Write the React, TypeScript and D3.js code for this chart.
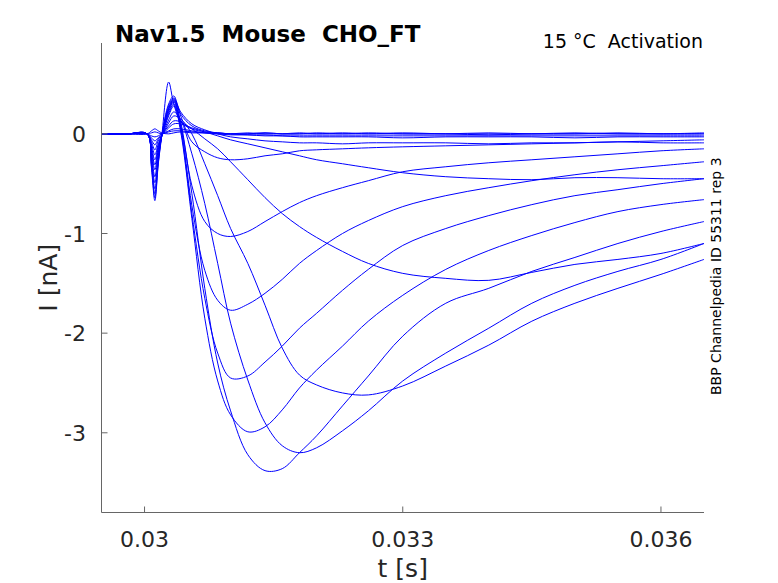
import { line, curveCatmullRom, scaleLinear } from "d3";

// sample times (s) shared by every sweep
const timeS = [
  0.0295, 0.0298, 0.03003, 0.03008, 0.03012, 0.03016, 0.0302, 0.03028, 0.03034, 0.03042, 0.03055,
  0.0307, 0.03085, 0.031, 0.0312, 0.0314, 0.0316, 0.0318, 0.032, 0.0323, 0.0326,
  0.033, 0.0335, 0.034, 0.0345, 0.035, 0.0355, 0.036, 0.0365,
];

// current (nA) per sweep
const sweep01 = [0, 0, 0, 0.03, 0.05, 0.03, 0.01, 0, 0.01, 0.02, 0.01, 0.01, 0, 0, 0.01, 0, 0, 0.01, 0, 0, 0.01, 0, 0, 0.01, 0, 0, 0.01, 0, 0];
const sweep02 = [0, 0, 0, 0.01, 0.02, 0.01, 0, 0.02, 0.03, 0.03, 0.02, 0.01, 0.01, 0, 0, 0.01, 0, 0, 0, 0.01, 0, 0, 0, -0.01, 0, 0, 0, 0, 0];
const sweep03 = [0, 0, 0, -0.02, -0.03, -0.02, 0, 0.03, 0.05, 0.05, 0.03, 0.01, 0, -0.01, -0.01, -0.01, -0.02, -0.02, -0.02, -0.02, -0.02, -0.02, -0.02, -0.02, -0.02, -0.02, -0.02, -0.02, -0.02];
const sweep04 = [0, 0, 0, -0.04, -0.07, -0.04, -0.01, 0.06, 0.1, 0.1, 0.06, 0.02, -0.02, -0.06, -0.1, -0.14, -0.18, -0.22, -0.26, -0.3, -0.34, -0.39, -0.43, -0.45, -0.46, -0.44, -0.44, -0.45, -0.45];
const sweep05 = [0, 0, 0, -0.06, -0.11, -0.05, -0.01, 0.08, 0.13, 0.12, 0.05, -0.05, -0.15, -0.28, -0.46, -0.64, -0.8, -0.93, -1.04, -1.18, -1.3, -1.4, -1.45, -1.47, -1.39, -1.31, -1.26, -1.2, -1.1];
const sweep06 = [0, 0, 0, -0.08, -0.16, -0.07, -0.02, 0.11, 0.18, 0.15, 0, -0.3, -0.62, -0.95, -1.3, -1.72, -2.15, -2.42, -2.52, -2.6, -2.62, -2.53, -2.33, -2.12, -1.88, -1.7, -1.55, -1.41, -1.26];
const sweep07 = [0, 0, 0, -0.1, -0.21, -0.1, -0.02, 0.14, 0.22, 0.14, -0.2, -0.7, -1.3, -1.9, -2.47, -2.9, -3.13, -3.2, -3.15, -2.98, -2.78, -2.48, -2.2, -1.95, -1.7, -1.52, -1.38, -1.26, -1.1];
const sweep08 = [0, 0, 0, -0.13, -0.26, -0.12, -0.02, 0.18, 0.28, 0.08, -0.6, -1.55, -2.3, -2.78, -3.22, -3.38, -3.36, -3.2, -3.03, -2.73, -2.43, -2.03, -1.7, -1.55, -1.38, -1.24, -1.1, -0.98, -0.88];
const sweep09 = [0, 0, 0, -0.15, -0.31, -0.14, -0.02, 0.2, 0.3, 0.02, -0.85, -1.85, -2.48, -2.82, -2.99, -2.94, -2.77, -2.55, -2.37, -2.13, -1.88, -1.62, -1.36, -1.17, -1.02, -0.89, -0.78, -0.71, -0.66];
const sweep10 = [0, 0, 0, -0.18, -0.36, -0.16, -0.02, 0.22, 0.32, 0.05, -0.8, -1.65, -2.2, -2.45, -2.43, -2.29, -2.13, -1.95, -1.8, -1.57, -1.36, -1.12, -0.95, -0.82, -0.71, -0.62, -0.56, -0.5, -0.45];
const sweep11 = [0, 0, 0, -0.21, -0.43, -0.19, -0.02, 0.24, 0.33, 0.08, -0.72, -1.37, -1.67, -1.77, -1.71, -1.6, -1.46, -1.3, -1.17, -1, -0.87, -0.73, -0.62, -0.54, -0.47, -0.41, -0.36, -0.32, -0.28];
const sweep12 = [0, 0, 0, -0.24, -0.49, -0.22, -0.02, 0.25, 0.34, 0.12, -0.52, -0.88, -1, -1.03, -0.98, -0.88, -0.78, -0.69, -0.62, -0.54, -0.47, -0.38, -0.33, -0.29, -0.26, -0.23, -0.2, -0.17, -0.15];
const sweep13 = [0, 0, 0, -0.27, -0.55, -0.25, -0.02, 0.26, 0.35, 0.18, -0.08, -0.18, -0.24, -0.26, -0.25, -0.22, -0.2, -0.17, -0.16, -0.15, -0.14, -0.13, -0.12, -0.11, -0.1, -0.09, -0.08, -0.07, -0.06];
const sweep14 = [0, 0, 0, -0.3, -0.6, -0.27, -0.02, 0.28, 0.36, 0.22, 0.1, 0.04, 0, -0.03, -0.05, -0.07, -0.08, -0.09, -0.09, -0.1, -0.09, -0.09, -0.09, -0.1, -0.09, -0.09, -0.08, -0.09, -0.09];
const sweep15 = [0, 0, 0, -0.32, -0.64, -0.29, -0.02, 0.3, 0.38, 0.2, 0.08, 0.03, 0.01, 0, -0.01, -0.02, -0.02, -0.03, -0.03, -0.03, -0.03, -0.04, -0.03, -0.03, -0.03, -0.04, -0.03, -0.03, -0.03];
const sweep16 = [0, 0, 0, -0.34, -0.67, -0.3, -0.02, 0.52, 0.3, 0.12, 0.05, 0.02, 0.01, 0, 0, 0.01, 0, 0, 0.01, 0, 0, 0.01, 0, 0, 0, 0.01, 0, 0, 0.01];

const sweeps = [
  sweep01, sweep02, sweep03, sweep04, sweep05, sweep06, sweep07, sweep08,
  sweep09, sweep10, sweep11, sweep12, sweep13, sweep14, sweep15, sweep16,
];

const xTicks = [0.03, 0.033, 0.036];
const yTicks = [0, -1, -2, -3];

const titleText = "Nav1.5  Mouse  CHO_FT";
const conditionText = "15 °C  Activation";
const sourceText = "BBP Channelpedia ID 55311 rep 3";

export default function App() {
  const width = 778;
  const height = 583;
  const left = 101.5;
  const right = 704;
  const top = 43;
  const bottom = 512.5;

  const x = scaleLinear().domain([0.0295, 0.0365]).range([left, right]);
  const y = scaleLinear().domain([-3.8, 0.912]).range([bottom, top]);

  const path = line<number>()
    .x((_, i) => x(timeS[i]))
    .y((d) => y(d))
    .curve(curveCatmullRom.alpha(0.5));

  const font = "'DejaVu Sans', sans-serif";
  const axisColor = "#666";
  const textColor = "#262626";

  return (
    <svg
      width={width}
      height={height}
      style={{ position: "absolute", left: 0, top: 0, background: "#fff" }}
      fontFamily={font}
    >
      <clipPath id="plot">
        <rect x={left} y={top} width={right - left} height={bottom - top} />
      </clipPath>

      <g clipPath="url(#plot)" fill="none" stroke="#0000ff" strokeWidth={1}>
        {sweeps.map((s, i) => (
          <path key={i} d={path(s) ?? ""} />
        ))}
      </g>

      {/* axes */}
      <line x1={left} x2={left} y1={top} y2={bottom} stroke={axisColor} />
      <line x1={left} x2={right} y1={bottom} y2={bottom} stroke={axisColor} />

      {xTicks.map((t) => (
        <g key={t}>
          <line x1={x(t)} x2={x(t)} y1={bottom} y2={bottom - 6} stroke={axisColor} />
          <text x={x(t)} y={547} textAnchor="middle" fontSize={22} fill={textColor}>
            {String(t)}
          </text>
        </g>
      ))}

      {yTicks.map((t) => (
        <g key={t}>
          <line x1={left} x2={left + 6} y1={y(t)} y2={y(t)} stroke={axisColor} />
          <text x={86} y={y(t) + 8} textAnchor="end" fontSize={22} fill={textColor}>
            {String(t)}
          </text>
        </g>
      ))}

      <text x={(left + right) / 2} y={577} textAnchor="middle" fontSize={25} fill={textColor}>
        t [s]
      </text>
      <text
        transform={`translate(57, ${(top + bottom) / 2}) rotate(-90)`}
        textAnchor="middle"
        fontSize={25}
        fill={textColor}
      >
        I [nA]
      </text>

      <text x={115} y={42} fontSize={23} fontWeight="bold" fill="#000" style={{ whiteSpace: "pre" }}>
        {titleText}
      </text>
      <text x={703} y={48} textAnchor="end" fontSize={19} fill="#000" style={{ whiteSpace: "pre" }}>
        {conditionText}
      </text>
      <text transform="translate(721, 395) rotate(-90)" fontSize={14} fill="#000">
        {sourceText}
      </text>
    </svg>
  );
}
